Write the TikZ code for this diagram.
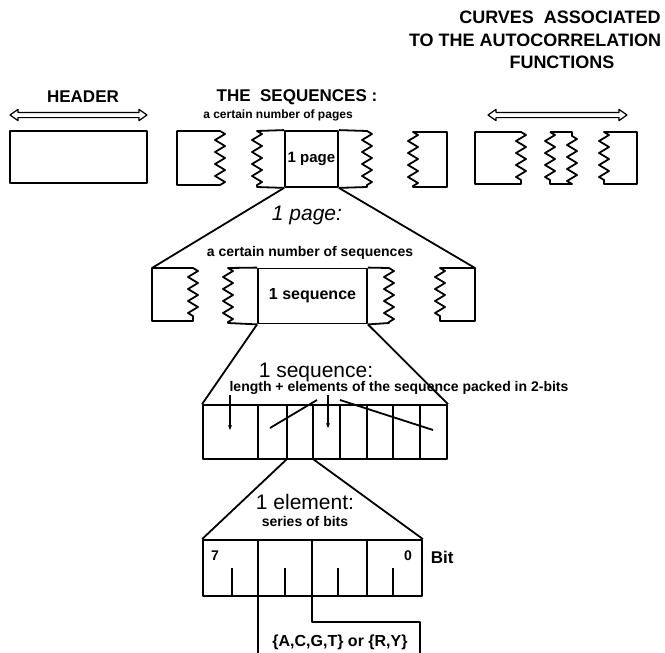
\documentclass[tikz,border=0pt]{standalone}
\usepackage{fontspec}
\setmainfont{Liberation Sans}
\usetikzlibrary{shapes.arrows,arrows.meta,decorations.pathmorphing}

\begin{document}
\begin{tikzpicture}[x=1pt,y=-1pt,line width=1.8pt,line join=round,
  bigtxt/.style={font=\fontsize{17}{20}\selectfont\bfseries, inner sep=0pt},
  smalltxt/.style={font=\fontsize{14}{16}\selectfont\bfseries, inner sep=0pt},
  leveltxt/.style={font=\fontsize{21}{24}\selectfont, inner sep=0pt},
  box/.style={draw, rectangle, inner sep=0pt, minimum width=#1},
  zz/.style={decoration={zigzag, segment length=12pt, amplitude=5pt}},
  spanarrow/.style={double arrow, draw, line width=1.2pt, inner xsep=0pt, inner ysep=2pt,
    double arrow head extend=3pt, double arrow tip angle=70, minimum height=#1},
  ptr/.style={-{Stealth[length=5pt,width=4pt]}}
]
  \useasboundingbox (0,0) rectangle (665,653);

  % header block
  \node[bigtxt] (hdrtxt) at (83,97) {HEADER};
  \node[spanarrow=137pt] (hdrspan) at (78.5,115) {};
  \node[box=137pt, minimum height=52pt] (hdr) at (78.5,157) {};

  % the sequences, page after page
  \node[bigtxt] (seqtitle) at (297,97) {THE\ \ SEQUENCES :};
  \node[smalltxt, font=\fontsize{12}{14}\selectfont\bfseries] (seqnote) at (278,115) {a certain number of pages};
  \node[box=53pt, minimum height=56pt, smalltxt, font=\fontsize{15}{17}\selectfont\bfseries] (pagebox) at (311.5,159) {1 page};
  \draw[zz] (177,131) -- (220,131) decorate {-- (220,185)} -- (177,185) -- cycle;
  \draw[zz] (pagebox.north west) -- (257,131) decorate {-- (257,187)} -- (pagebox.south west);
  \draw[zz] (pagebox.north east) -- (367,131) decorate {-- (367,187)} -- (pagebox.south east);
  \draw[zz] (413,132) decorate {-- (413,187)} -- (447,187) -- (447,132) -- cycle;

  % autocorrelation curves
  \node[bigtxt, font=\fontsize{18}{20}\selectfont\bfseries] (ttl1) at (560,17) {CURVES\ \ ASSOCIATED};
  \node[bigtxt, font=\fontsize{18}{20}\selectfont\bfseries] (ttl2) at (535,40) {TO THE AUTOCORRELATION};
  \node[bigtxt, font=\fontsize{18}{20}\selectfont\bfseries] (ttl3) at (562,62) {FUNCTIONS};
  \node[spanarrow=139pt] (curvspan) at (557.5,115) {};
  \draw[zz] (475,132) -- (521,132) decorate {-- (521,184)} -- (475,184) -- cycle;
  \draw[zz] (550,132) decorate {-- (550,184)} -- (572,184) decorate {-- (572,132)} -- (550,132);
  \draw[zz] (604,132) decorate {-- (604,184)} -- (637,184) -- (637,132) -- cycle;

  % one page
  \node[leveltxt] (pagehead) at (307,215) {\itshape 1 page:};
  \node[smalltxt] (pagesub) at (310,253) {a certain number of sequences};
  \coordinate (pgL) at (152,268);
  \coordinate (pgR) at (475,268);
  \draw (pagebox.south west) -- (pgL);
  \draw (pagebox.south east) -- (pgR);
  \node[box=109pt, minimum height=55pt, font=\fontsize{16}{18}\selectfont\bfseries] (seqbox) at (312.5,296) {1 sequence};
  \draw[zz] (pgL) -- (193,268) decorate {-- (193,321)} -- (152,321) -- cycle;
  \draw[zz] (seqbox.north west) -- (228,268) decorate {-- (228,323)} -- (seqbox.south west);
  \draw[zz] (seqbox.north east) -- (389,268) decorate {-- (389,323)} -- (seqbox.south east);
  \draw[zz] (440,268) decorate {-- (440,321)} -- (475,321) -- (pgR) -- cycle;

  % one sequence
  \node[leveltxt] (seqhead) at (316,372) {1 sequence:};
  \node[smalltxt] (seqsub) at (399,388) {length + elements of the sequence packed in 2-bits};
  \node[box=244pt, minimum height=54pt] (seqrow) at (325,432) {};
  \foreach \xd in {258,287,313,340,367,393,420}
    \draw (\xd,405) -- (\xd,459);
  \draw (seqbox.south west) -- (seqrow.north west);
  \draw (seqbox.south east) -- (seqrow.north east);
  \coordinate (lenpt) at (230,430);
  \coordinate (elpt) at (328,428);
  \coordinate (elsplitL) at (317,400);
  \coordinate (elsplitR) at (340,400);
  \coordinate (elfirst) at (270,428);
  \coordinate (ellast) at (433,430);
  \draw[ptr] (seqsub.south -| lenpt) -- (lenpt);
  \draw[ptr] (seqsub.south -| elpt) -- (elpt);
  \draw (elsplitL) -- (elfirst);
  \draw (elsplitR) -- (ellast);

  % one element
  \coordinate (elL) at (287,459);
  \coordinate (elR) at (313,459);
  \node[leveltxt] (elhead) at (305,502) {1 element:};
  \node[smalltxt] (elsub) at (305,521) {series of bits};
  \node[box=219pt, minimum height=56pt] (bitrow) at (312.5,568) {};
  \foreach \xd in {258,312,367}
    \draw (\xd,540) -- (\xd,596);
  \foreach \xd in {232,285,338,393}
    \draw (\xd,568) -- (\xd,596);
  \draw (elL) -- (bitrow.north west);
  \draw (elR) -- (bitrow.north east);
  \node[smalltxt] (msb) at (215,556) {7};
  \node[smalltxt] (lsb) at (408,556) {0};
  \node[bigtxt, anchor=west] (bitlbl) at (430,557) {Bit};

  % bases coded in the two bits
  \coordinate (brL) at (258,653);
  \coordinate (brR) at (420,653);
  \draw (258,596) -- (brL);
  \draw (312,596) -- (312,622) -| (brR);
  \node[font=\fontsize{16}{18}\selectfont\bfseries, inner sep=0pt] (basesets) at (340,642) {\{A,C,G,T\} or \{R,Y\}};
\end{tikzpicture}
\end{document}
